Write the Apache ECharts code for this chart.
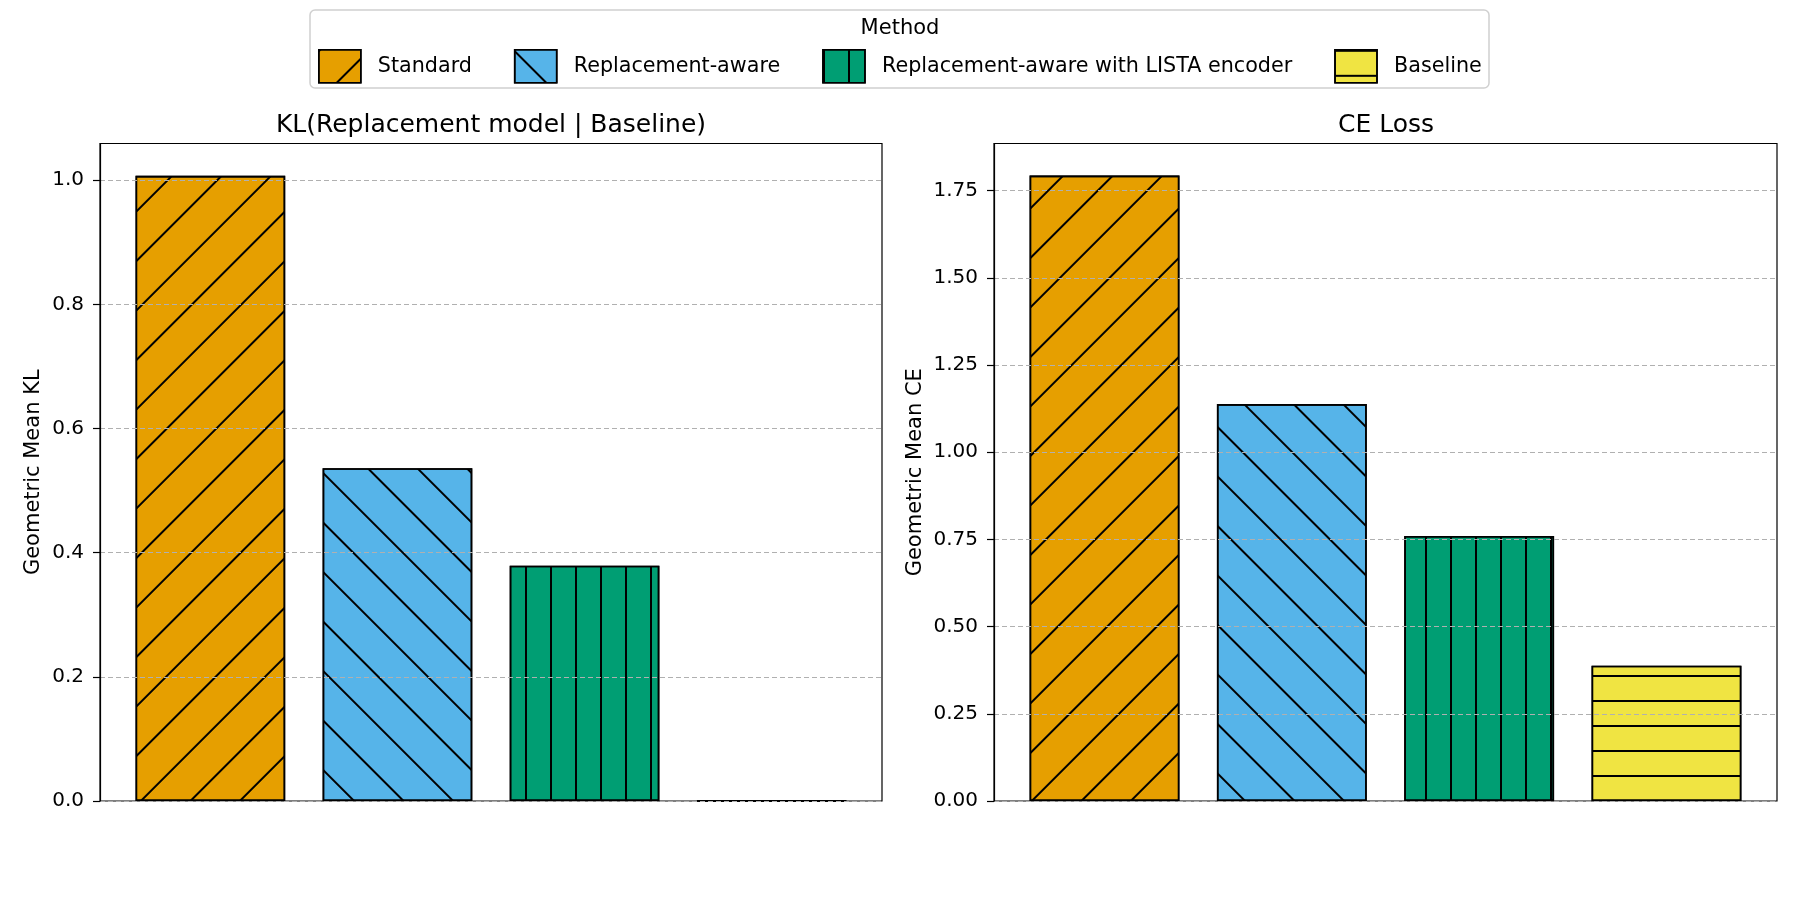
<!DOCTYPE html>
<html>
<head>
<meta charset="utf-8">
<script src="https://cdn.jsdelivr.net/npm/echarts@6.0.0/dist/echarts.min.js"></script>
<style>
    html, body { margin: 0; padding: 0; background: #fff; }
    #chart { width: 1800px; height: 900px; }
</style>
</head>
<body>
<div id="chart"></div>
<script>
var methods = ['Standard', 'Replacement-aware', 'Replacement-aware with LISTA encoder', 'Baseline'];
var klValues = [1.007, 0.536, 0.379, 0.0005];
var ceValues = [1.793, 1.138, 0.760, 0.388];
var klTicks = [0, 0.2, 0.4, 0.6, 0.8, 1.0];
var ceTicks = [0, 0.25, 0.5, 0.75, 1.0, 1.25, 1.5, 1.75];
var klMax = 1.059;
var ceMax = 1.885;

var colors = ['#E69F00', '#56B4E9', '#009E73', '#F0E442'];
// hatch patterns: '/', '\', '|', '-'
var hatches = [
    {dashArrayX: [[10, 0]], dashArrayY: [2, 33], rotation: -Math.PI / 4},
    {dashArrayX: [[10, 0]], dashArrayY: [2, 33], rotation: Math.PI / 4},
    {dashArrayX: [[2, 23]], dashArrayY: [10, 0]},
    {dashArrayX: [[10, 0]], dashArrayY: [2, 23]}
];
var font = 'DejaVu Sans';

function decalFor(i) {
    var d = {symbol: 'rect', symbolSize: 1, color: '#000'};
    for (var k in hatches[i]) d[k] = hatches[i][k];
    return d;
}

function makeSeries(values, idx) {
    return values.map(function (v, i) {
        return {
            type: 'bar',
            name: methods[i],
            xAxisIndex: idx,
            yAxisIndex: idx,
            stack: 'panel' + idx,
            barWidth: '80%',
            data: [[i, v]],
            itemStyle: {
                color: colors[i],
                borderColor: '#000',
                borderWidth: 1.6,
                decal: decalFor(i)
            },
            emphasis: {disabled: true}
        };
    });
}

function makeYAxis(idx, name, max, step, ticks, digits, gap) {
    return {
        type: 'value',
        gridIndex: idx,
        min: 0,
        max: max,
        interval: step,
        z: 5,
        name: name,
        nameLocation: 'middle',
        nameGap: gap,
        nameTextStyle: {fontSize: 21, color: '#000', fontFamily: font},
        axisLine: {show: true, onZero: false, lineStyle: {color: '#000', width: 1.2}},
        axisTick: {show: true, length: 7, customValues: ticks, lineStyle: {color: '#000', width: 1.2}},
        axisLabel: {
            fontSize: 20, color: '#000', fontFamily: font, margin: 16,
            customValues: ticks,
            formatter: function (v) { return v.toFixed(digits); }
        },
        splitLine: {show: true, lineStyle: {color: '#b0b0b0', width: 1.2, type: [5, 3]}}
    };
}

function makeXAxis(idx) {
    return {
        type: 'value',
        gridIndex: idx,
        min: -0.59,
        max: 3.59,
        axisLine: {show: false, onZero: false},
        axisTick: {show: false},
        axisLabel: {show: false},
        splitLine: {show: false}
    };
}

var chart = echarts.init(document.getElementById('chart'));

chart.setOption({
    animation: false,
    textStyle: {fontFamily: font},
    grid: [
        {left: 100, top: 143.5, width: 782, height: 657.5, show: true, borderColor: '#000', borderWidth: 1.2},
        {left: 994, top: 143.5, width: 783, height: 657.5, show: true, borderColor: '#000', borderWidth: 1.2}
    ],
    xAxis: [makeXAxis(0), makeXAxis(1)],
    yAxis: [
        makeYAxis(0, 'Geometric Mean KL', klMax, 0.2, klTicks, 1, 56),
        makeYAxis(1, 'Geometric Mean CE', ceMax, 0.25, ceTicks, 2, 68)
    ],
    legend: {
        left: 318,
        top: 49,
        padding: 0,
        icon: 'rect',
        itemWidth: 42,
        itemHeight: 33,
        itemGap: 42,
        selectedMode: false,
        data: methods,
        itemStyle: {borderColor: '#000', borderWidth: 1.6},
        textStyle: {fontSize: 20.7, color: '#000', fontFamily: font, padding: [0, 0, 0, 12]}
    },
    graphic: [
        {
            type: 'rect',
            shape: {x: 310, y: 10, width: 1179, height: 78, r: 5},
            style: {fill: 'none', stroke: '#d0d0d0', lineWidth: 1.5}
        },
        {
            type: 'text', x: 900, y: 29,
            style: {text: 'Method', fontSize: 21, fontFamily: font, fill: '#000', align: 'center', verticalAlign: 'middle'}
        },
        {
            type: 'text', x: 491, y: 125,
            style: {text: 'KL(Replacement model | Baseline)', fontSize: 25, fontFamily: font, fill: '#000', align: 'center', verticalAlign: 'middle'}
        },
        {
            type: 'text', x: 1386, y: 125,
            style: {text: 'CE Loss', fontSize: 25, fontFamily: font, fill: '#000', align: 'center', verticalAlign: 'middle'}
        }
    ],
    series: makeSeries(klValues, 0).concat(makeSeries(ceValues, 1))
});
</script>
</body>
</html>
